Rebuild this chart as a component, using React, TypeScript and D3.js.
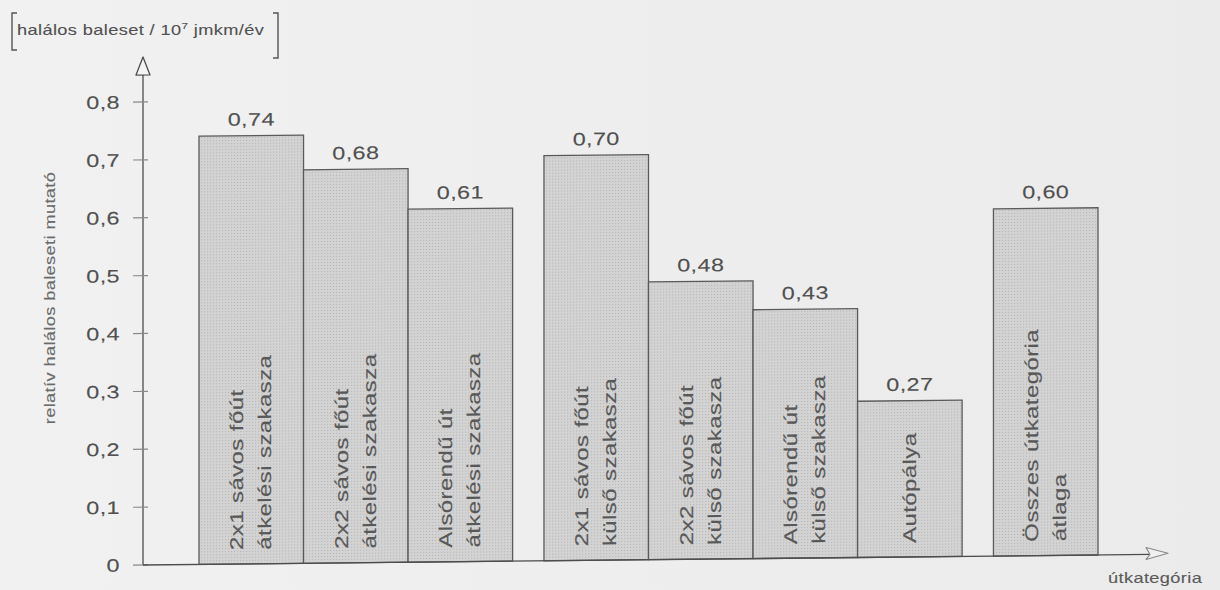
import React from "react";
import * as d3 from "d3";

// Relative fatal accident rate by road category
const categoryLines: string[][] = [
  ["2x1 sávos főút", "átkelési szakasza"],
  ["2x2 sávos főút", "átkelési szakasza"],
  ["Alsórendű út", "átkelési szakasza"],
  ["2x1 sávos főút", "külső szakasza"],
  ["2x2 sávos főút", "külső szakasza"],
  ["Alsórendű út", "külső szakasza"],
  ["Autópálya"],
  ["Összes útkategória", "átlaga"],
];
const values: number[] = [0.74, 0.68, 0.61, 0.7, 0.48, 0.43, 0.27, 0.6];
const groups: number[] = [0, 0, 0, 1, 1, 1, 1, 2];
const tickValues: number[] = [0, 0.1, 0.2, 0.3, 0.4, 0.5, 0.6, 0.7, 0.8];

const unitLabel = "halálos baleset / 10";
const unitExp = "7";
const unitTail = " jmkm/év";
const yTitle = "relatív halálos baleseti mutató";
const xTitle = "útkategória";

const W = 1220;
const H = 590;
const FONT = "'Liberation Sans', Arial, Helvetica, sans-serif";
const SX = 1.3;
const LS = 0.3;

const huLocale = d3.formatLocale({
  decimal: ",",
  thousands: " ",
  grouping: [3],
  currency: ["", " Ft"],
});
const fmtValue = huLocale.format(".2f");
const fmtTick = (v: number) => (v === 0 ? "0" : huLocale.format(".1f")(v));

// Wide sans text
function T(props: {
  x: number;
  y: number;
  rotate?: number;
  size: number;
  anchor?: "start" | "middle" | "end";
  baseline?: string;
  fill?: string;
  children: React.ReactNode;
}) {
  const { x, y, rotate = 0, size, anchor = "start", baseline, fill = "#505050", children } = props;
  return (
    <text
      transform={`translate(${x},${y}) rotate(${rotate}) scale(${SX},1)`}
      fontSize={size}
      fontFamily={FONT}
      letterSpacing={LS}
      textAnchor={anchor}
      dominantBaseline={baseline as any}
      fill={fill}
      stroke={fill}
      strokeWidth={0.12}
    >
      {children}
    </text>
  );
}

export default function App() {
  const x0 = 143;
  const y0 = 565;

  const y = d3.scaleLinear().domain([0, 0.8]).range([y0, 102]);
  const slot = d3.scaleLinear().domain([0, 8.6]).range([199, 1098]);
  const barW = slot(1) - slot(0);
  const slots = values.map((_, i) => i + groups[i] * 0.3);

  const axisColor = "#4d4d4d";

  return (
    <svg
      width={W}
      height={H}
      viewBox={`0 0 ${W} ${H}`}
      style={{ position: "absolute", left: 0, top: 0, display: "block" }}
    >
      <defs>
        <pattern id="barDots" width={3} height={3} patternUnits="userSpaceOnUse">
          <rect width={3} height={3} fill="#d3d3d3" />
          <rect width={1} height={1} fill="#b4b4b4" />
        </pattern>
        <linearGradient id="paper" x1="0" y1="0" x2="1" y2="0">
          <stop offset="0" stopColor="#f1f1f1" />
          <stop offset="1" stopColor="#ebebeb" />
        </linearGradient>
      </defs>
      <rect width={W} height={H} fill="url(#paper)" />

      {/* unit label in brackets */}
      <g stroke="#555" strokeWidth={1.4} fill="none">
        <path d="M17,13 H12 V50 H17" />
        <path d="M273,13 H278 V58 H273" />
      </g>
      <text
        transform={`translate(17,35) scale(${SX},1)`}
        fontSize={14}
        fontFamily={FONT}
        letterSpacing={LS}
        fill="#505050"
        stroke="#505050"
        strokeWidth={0.1}
      >
        {unitLabel}
        <tspan fontSize={9} dy={-6}>{unitExp}</tspan>
        <tspan dy={6}>{unitTail}</tspan>
      </text>

      {/* y title */}
      <T x={55} y={298} rotate={-90} size={14} anchor="middle" fill="#6a6a6a">
        {yTitle}
      </T>

      {/* x title */}
      <T x={1108} y={583} size={14} fill="#5a5a5a">
        {xTitle}
      </T>

      <g transform={`translate(${x0},${y0}) skewY(-0.6) translate(${-x0},${-y0})`}>
        {/* bars */}
        {values.map((v, i) => {
          const bx = slot(slots[i]);
          return (
            <rect
              key={"b" + i}
              x={bx}
              y={y(v)}
              width={barW}
              height={y0 - y(v)}
              fill="url(#barDots)"
              stroke="#5a5a5a"
              strokeWidth={1.3}
            />
          );
        })}

        {/* value labels */}
        {values.map((v, i) => (
          <T
            key={"v" + i}
            x={slot(slots[i]) + barW / 2}
            y={y(v) - 10}
            size={18}
            anchor="middle"
            fill="#505050"
          >
            {fmtValue(v)}
          </T>
        ))}

        {/* category labels inside bars */}
        {categoryLines.map((lines, i) => {
          const cx = slot(slots[i]) + barW / 2;
          const n = lines.length;
          return lines.map((line, j) => (
            <T
              key={"c" + i + "-" + j}
              x={cx + (j - (n - 1) / 2) * 28}
              y={y0 - 14}
              rotate={-90}
              size={18.5}
              anchor="start"
              baseline="central"
              fill="#585858"
            >
              {line}
            </T>
          ));
        })}

        {/* y axis */}
        <line x1={x0} x2={x0} y1={y0} y2={75} stroke={axisColor} strokeWidth={1.3} />
        <path
          d={`M${x0},57 L${x0 - 7},75 L${x0 + 7},75 Z`}
          fill="#f4f4f4"
          stroke={axisColor}
          strokeWidth={1.3}
          strokeLinejoin="round"
        />
        {tickValues.map((t) => (
          <g key={"t" + t}>
            <line x1={x0 - 10} x2={x0 + 5} y1={y(t)} y2={y(t)} stroke="#8a8a8a" strokeWidth={1.2} />
            <T x={120} y={y(t)} size={18} anchor="end" baseline="central" fill="#505050">
              {fmtTick(t)}
            </T>
          </g>
        ))}

        {/* x axis */}
        <line x1={x0} x2={1150} y1={y0} y2={y0} stroke={axisColor} strokeWidth={1.3} />
        <path
          d={`M1168,${y0 - 1} L1146,${y0 - 7} L1150,${y0} L1146,${y0 + 5} Z`}
          fill="#f0f0f0"
          stroke="#8a8a8a"
          strokeWidth={1.2}
          strokeLinejoin="round"
        />
      </g>
    </svg>
  );
}
